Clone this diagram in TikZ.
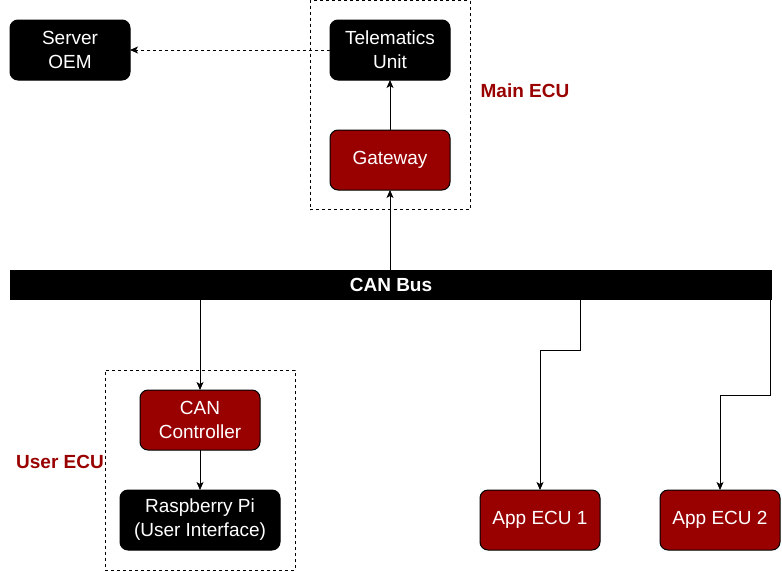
\documentclass[tikz,border=0pt]{standalone}
\usepackage{fontspec}
\setmainfont{Liberation Sans}
\usetikzlibrary{arrows.meta,positioning,calc}
\definecolor{ecuRed}{RGB}{153,0,0}
\tikzset{
  unit/.style={draw, rounded corners=8pt, line width=1pt, fill=black, text=white, align=center, minimum width=120pt, minimum height=60pt, inner sep=0pt, outer sep=0pt, font=\fontsize{19}{24}\selectfont},
  ecu/.style={unit, fill=ecuRed},
  bus/.style={fill=black, text=white, minimum width=762pt, minimum height=30pt, inner sep=0pt, outer sep=0pt, font=\bfseries\fontsize{19}{24}\selectfont},
  group/.style={draw, dashed, dash pattern=on 3pt off 3pt, line width=0.8pt, inner sep=0pt, outer sep=0pt},
  tag/.style={text=ecuRed, font=\bfseries\fontsize{19}{24}\selectfont},
  arrow/.style={-{Stealth[length=8pt, width=7pt, inset=2pt]}, line width=0.8pt}
}
\begin{document}
\begin{tikzpicture}[x=1pt,y=-1pt]
  \useasboundingbox (0,0) rectangle (782,571);
  % ECU groups
  \node[group, minimum width=160pt, minimum height=209pt] (mainecu) at (390,105) {};
  \node[group, minimum width=190pt, minimum height=200pt] (userecu) at (200,470) {};
  \node[tag] (mainlbl) at (525,91) {Main ECU};
  \node[tag] (userlbl) at (60,462) {User ECU};

  \node[unit] (srv) at (70,50) {Server\\OEM};
  \node[unit] (tel) at (390,50) {Telematics\\Unit};
  \node[ecu] (gw) at (390,160) {Gateway};
  \node[bus] (can) at (391,285) {CAN Bus};
  \node[ecu] (ctrl) at (200,420) {CAN\\Controller};
  \node[unit, minimum width=160pt] (rpi) at (200,520) {Raspberry Pi\\(User Interface)};
  \node[ecu] (app1) at (540,520) {App ECU 1};
  \node[ecu] (app2) at (720,520) {App ECU 2};
  \coordinate (tap1) at (580,300);
  \coordinate (tap2) at (770,300);

  \draw[arrow] (gw.south |- can.north) -- (gw);
  \draw[arrow] (gw) -- (tel);
  \draw[arrow, dashed, dash pattern=on 3pt off 3pt] (tel) -- (srv);
  \draw[arrow] (ctrl.north |- can.south) -- (ctrl);
  \draw[arrow] (ctrl) -- (rpi);
  \draw[arrow] (tap1) -- ++(0,50) -| (app1.north);
  \draw[arrow] (tap2) -- ++(0,95) -| (app2.north);
\end{tikzpicture}
\end{document}
